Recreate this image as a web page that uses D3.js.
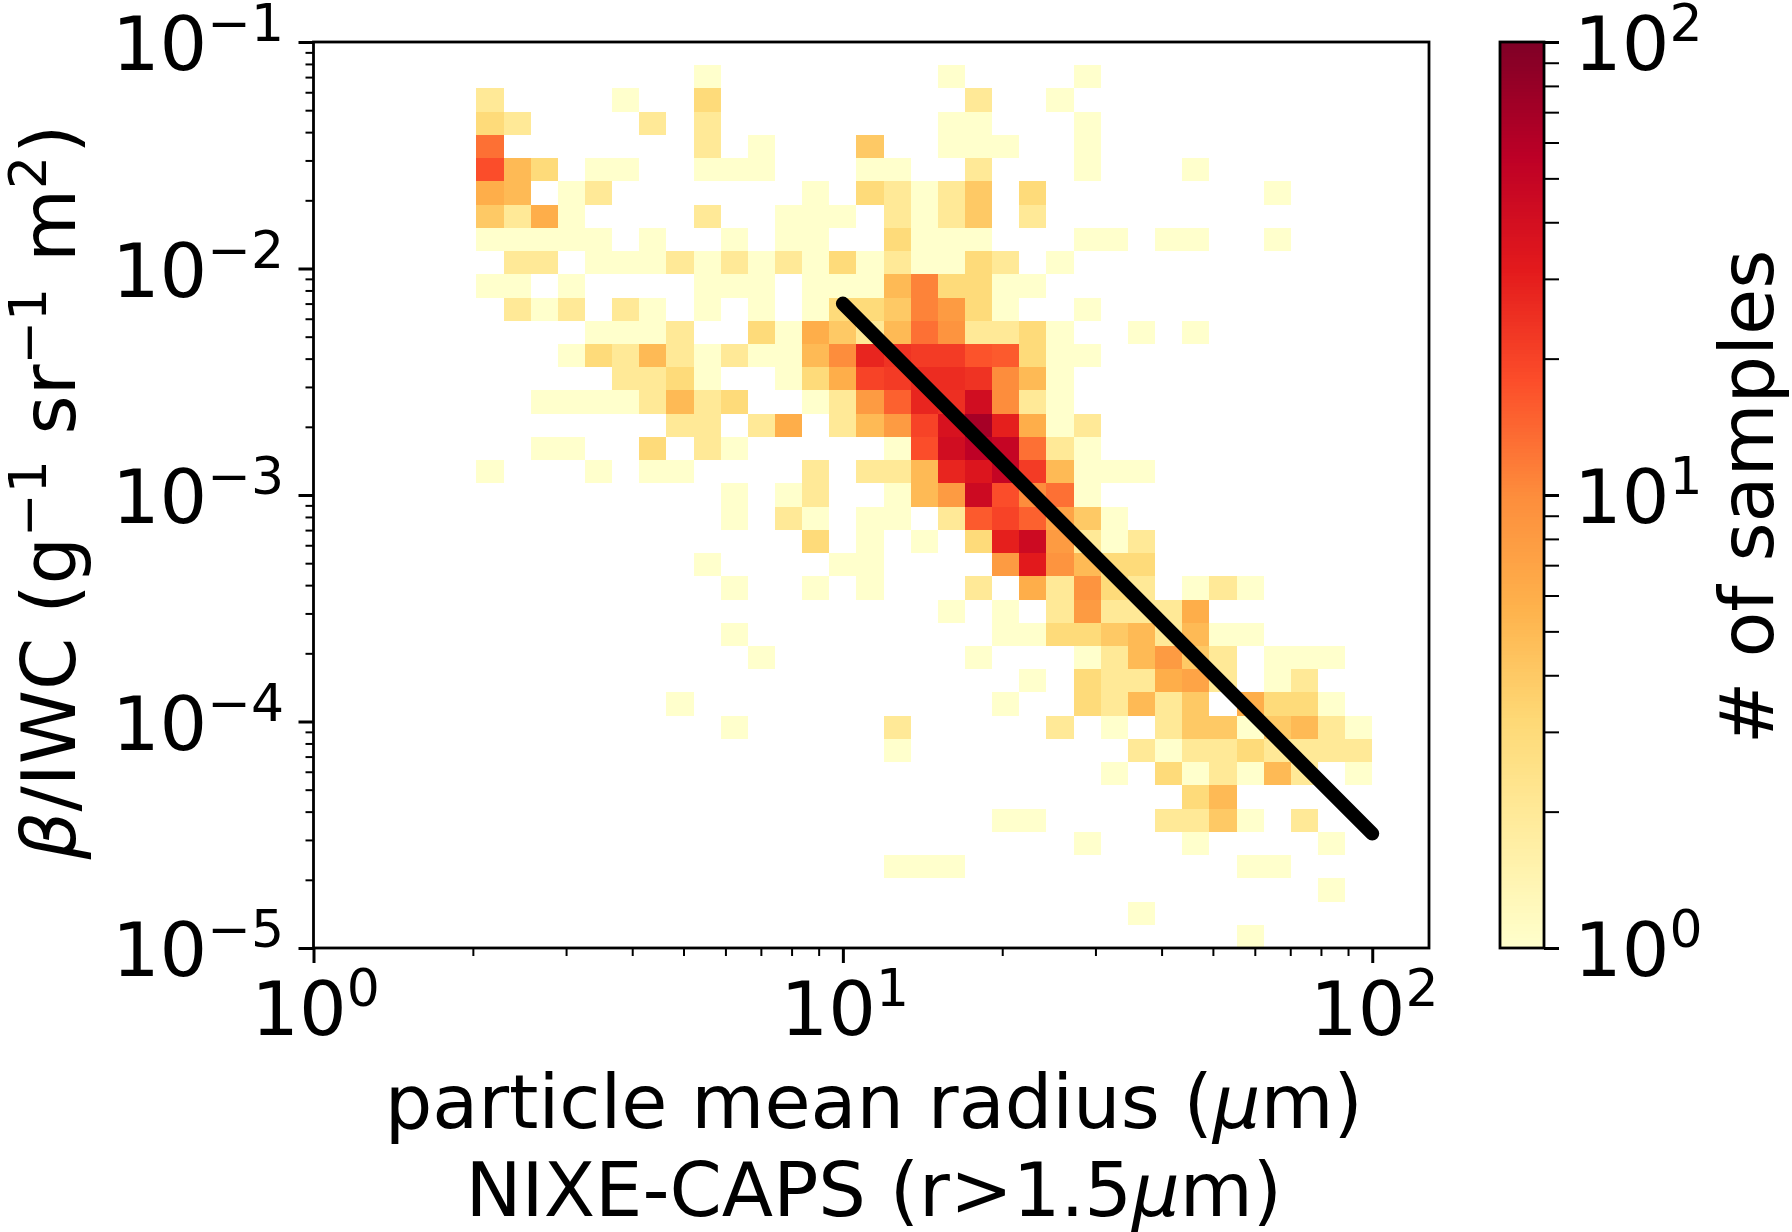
<!DOCTYPE html>
<html>
<head>
<meta charset="utf-8">
<script src="https://d3js.org/d3.v7.min.js"></script>
<style>
  html, body { margin: 0; padding: 0; background: #fff; }
  text { font-family: "DejaVu Sans"; fill: #000; }
</style>
</head>
<body>
<svg id="chart" width="1792" height="1232"></svg>
<script>
// histogram bins: 39 log spaced bins on each axis
const nBins = 39
const xDecades = [0, 2]
const yDecades = [-5, -1]

// sample counts per row of bins (top row first), as [x bin, count]
const counts = [
  [],
  [[14,1],[23,1],[28,1]],
  [[6,2],[11,1],[14,3],[24,2],[27,1]],
  [[6,3],[7,2],[12,2],[14,2],[23,1],[24,1],[28,1]],
  [[6,13],[14,2],[16,1],[20,4],[23,1],[24,1],[25,1],[28,1]],
  [[6,18],[7,5],[8,3],[10,1],[11,1],[14,1],[15,1],[16,1],[20,1],[21,1],[24,2],[28,1],[32,1]],
  [[6,6],[7,5],[9,1],[10,2],[18,1],[20,3],[21,2],[22,1],[23,2],[24,4],[26,3],[35,1]],
  [[6,4],[7,2],[8,6],[9,1],[14,2],[17,1],[18,1],[19,1],[21,2],[22,1],[23,2],[24,4],[26,2]],
  [[6,1],[7,1],[8,1],[9,1],[10,1],[12,1],[15,1],[17,1],[18,1],[21,3],[22,1],[23,1],[24,1],[28,1],[29,1],[31,1],[32,1],[35,1]],
  [[7,2],[8,2],[10,1],[11,1],[12,1],[13,2],[14,1],[15,2],[16,1],[17,2],[18,1],[19,3],[20,1],[21,2],[22,1],[23,1],[24,3],[25,2],[27,1]],
  [[6,1],[7,1],[9,1],[14,1],[15,1],[16,1],[18,1],[19,1],[20,1],[21,5],[22,11],[23,3],[24,3],[25,1],[26,1]],
  [[7,2],[8,1],[9,2],[11,2],[12,1],[14,1],[16,1],[18,1],[19,3],[20,3],[21,4],[22,11],[23,8],[24,3],[25,1],[28,1]],
  [[10,1],[11,1],[12,1],[13,2],[16,3],[17,1],[18,6],[19,4],[20,2],[21,5],[22,13],[23,9],[24,2],[25,2],[26,3],[27,1],[30,1],[32,1]],
  [[9,1],[10,3],[11,2],[12,5],[13,2],[14,1],[15,2],[16,1],[17,1],[18,5],[19,10],[20,28],[21,24],[22,22],[23,22],[24,17],[25,16],[26,3],[27,1],[28,1]],
  [[11,2],[12,2],[13,3],[14,1],[17,1],[18,3],[19,6],[20,20],[21,22],[22,26],[23,26],[24,24],[25,10],[26,5],[27,1]],
  [[8,1],[9,1],[10,1],[11,1],[12,2],[13,5],[14,2],[15,3],[18,1],[19,2],[20,8],[21,15],[22,28],[23,25],[24,42],[25,10],[26,2],[27,1]],
  [[13,2],[14,2],[16,2],[17,6],[19,2],[20,5],[21,8],[22,20],[23,38],[24,70],[25,30],[26,6],[27,1],[28,2]],
  [[8,1],[9,1],[12,3],[14,2],[15,1],[21,1],[22,18],[23,42],[24,55],[25,50],[26,13],[27,2],[28,1]],
  [[6,1],[10,1],[12,1],[13,1],[18,2],[20,2],[21,2],[22,5],[23,28],[24,35],[25,50],[26,22],[27,5],[28,1],[29,1],[30,1]],
  [[15,1],[17,1],[18,2],[21,1],[22,5],[23,8],[24,45],[25,18],[26,10],[27,13],[28,1]],
  [[15,1],[17,2],[18,1],[20,1],[21,1],[23,2],[24,16],[25,20],[26,15],[27,7],[28,4],[29,1]],
  [[18,3],[20,1],[22,1],[24,3],[25,30],[26,45],[27,8],[28,2],[29,1],[30,2]],
  [[14,1],[19,1],[20,1],[25,8],[26,32],[27,9],[28,5],[29,3],[30,3]],
  [[15,1],[18,1],[20,1],[24,2],[26,6],[27,2],[28,9],[29,3],[30,2],[32,1],[33,2],[34,1]],
  [[23,1],[25,1],[27,2],[28,8],[29,2],[30,2],[31,2],[32,6]],
  [[15,1],[25,1],[26,1],[27,3],[28,3],[29,4],[30,5],[31,2],[32,5],[33,1],[34,1]],
  [[16,1],[24,1],[28,1],[29,2],[30,5],[31,8],[32,4],[33,2],[35,1],[36,1],[37,1]],
  [[26,1],[28,3],[29,2],[30,2],[31,6],[32,7],[33,2],[35,1],[36,2]],
  [[13,1],[25,1],[28,3],[29,2],[30,5],[31,2],[32,4],[34,6],[35,3],[36,3],[37,1]],
  [[15,1],[21,2],[27,2],[29,1],[31,2],[32,4],[33,4],[34,1],[35,4],[36,5],[37,2],[38,1]],
  [[21,1],[30,2],[31,1],[32,2],[33,2],[34,3],[35,2],[36,2],[37,2],[38,2]],
  [[29,1],[31,3],[32,1],[33,2],[34,1],[35,5],[36,2],[38,1]],
  [[32,3],[33,5]],
  [[25,1],[26,1],[31,2],[32,2],[33,4],[34,1],[36,2]],
  [[28,1],[32,1],[37,1]],
  [[21,1],[22,1],[23,1],[34,1],[35,1]],
  [[37,1]],
  [[30,1]],
  [[34,1]]
]

// fit line
const fitRadius = [10, 100]
const fitRatio = [7.0e-3, 3.2e-5]

// YlOrRd
const cmapColors = ['#ffffcc','#ffeda0','#fed976','#feb24c','#fd8d3c','#fc4e2a','#e31a1c','#bd0026','#800026']

const xMajor = [1, 10, 100]
const xMinor = [2,3,4,5,6,7,8,9,20,30,40,50,60,70,80,90]
const yMajor = [1e-5, 1e-4, 1e-3, 1e-2, 1e-1]
const yMinor = d3.merge([1e-5, 1e-4, 1e-3, 1e-2].map(d => [2,3,4,5,6,7,8,9].map(m => m * d)))
const cMajor = [1, 10, 100]
const cMinor = [2,3,4,5,6,7,8,9,20,30,40,50,60,70,80,90]

const margin = { left: 313.5, right: 1429, top: 42, bottom: 948 }
const cbar = { left: 1500, right: 1544 }
const tickFont = 75
const supFont = 52

const xScale = d3.scaleLog().domain([1, 128]).range([margin.left, margin.right])
const yScale = d3.scaleLog().domain([1e-5, 1e-1]).range([margin.bottom, margin.top])
const cScale = d3.scaleLog().domain([1, 100]).range([margin.bottom, margin.top])

const cmap = d3.scaleLinear()
  .domain(cmapColors.map((d, i) => i / (cmapColors.length - 1)))
  .range(cmapColors)
const colorNorm = d3.scaleLog().domain([1, 100]).range([0, 1])

const svg = d3.select('#chart')
svg.append('rect').attr('width', 1792).attr('height', 1232).attr('fill', '#fff')

// bin edges
const xEdge = i => Math.pow(10, xDecades[0] + i * (xDecades[1] - xDecades[0]) / nBins)
const yEdge = j => Math.pow(10, yDecades[1] - j * (yDecades[1] - yDecades[0]) / nBins)

const cells = d3.merge(counts.map((row, j) => row.map(c => ({ i: c[0], j: j, n: c[1] }))))

svg.append('g').attr('class', 'cells')
  .attr('shape-rendering', 'crispEdges')
  .selectAll('rect')
  .data(cells)
  .enter().append('rect')
  .attr('x', d => xScale(xEdge(d.i)))
  .attr('y', d => yScale(yEdge(d.j)))
  .attr('width', d => xScale(xEdge(d.i + 1)) - xScale(xEdge(d.i)))
  .attr('height', d => yScale(yEdge(d.j + 1)) - yScale(yEdge(d.j)))
  .attr('fill', d => cmap(colorNorm(d.n)))

// fit line
const line = d3.line().x(d => xScale(d[0])).y(d => yScale(d[1]))
svg.append('path')
  .datum(fitRadius.map((r, i) => [r, fitRatio[i]]))
  .attr('d', line)
  .attr('fill', 'none')
  .attr('stroke', '#000')
  .attr('stroke-width', 14)
  .attr('stroke-linecap', 'round')

// colorbar
const cbarSteps = d3.range(256)
svg.append('g').attr('shape-rendering', 'crispEdges')
  .selectAll('rect')
  .data(cbarSteps)
  .enter().append('rect')
  .attr('x', cbar.left)
  .attr('width', cbar.right - cbar.left)
  .attr('y', d => margin.bottom - (d + 1) * (margin.bottom - margin.top) / 256)
  .attr('height', (margin.bottom - margin.top) / 256 + 0.5)
  .attr('fill', d => cmap(d / 255))

// frames
svg.append('rect')
  .attr('x', margin.left).attr('y', margin.top)
  .attr('width', margin.right - margin.left).attr('height', margin.bottom - margin.top)
  .attr('fill', 'none').attr('stroke', '#000').attr('stroke-width', 2.8)
svg.append('rect')
  .attr('x', cbar.left).attr('y', margin.top)
  .attr('width', cbar.right - cbar.left).attr('height', margin.bottom - margin.top)
  .attr('fill', 'none').attr('stroke', '#000').attr('stroke-width', 2.8)

function styleAxis(g, width) {
  g.select('.domain').remove()
  g.selectAll('.tick line').attr('stroke', '#000').attr('stroke-width', width)
  g.selectAll('text').remove()
}

// draw "10^n" tick label as real text
function powerLabel(sel, anchor, x, y, value) {
  const exp = Math.round(Math.log10(value))
  const label = sel.append('text')
    .attr('x', x).attr('y', y)
    .attr('text-anchor', anchor)
    .style('font-size', tickFont + 'px')
  label.append('tspan').text('10')
  label.append('tspan')
    .attr('dy', -29)
    .style('font-size', supFont + 'px')
    .text(String(exp).replace('-', '\u2212'))
}

const axisX = svg.append('g').attr('transform', `translate(0,${margin.bottom})`)
axisX.call(d3.axisBottom(xScale).tickValues(xMajor).tickSize(15)).call(styleAxis, 3)
const axisXm = svg.append('g').attr('transform', `translate(0,${margin.bottom})`)
axisXm.call(d3.axisBottom(xScale).tickValues(xMinor).tickSize(8)).call(styleAxis, 2)

const axisY = svg.append('g').attr('transform', `translate(${margin.left},0)`)
axisY.call(d3.axisLeft(yScale).tickValues(yMajor).tickSize(15)).call(styleAxis, 3)
const axisYm = svg.append('g').attr('transform', `translate(${margin.left},0)`)
axisYm.call(d3.axisLeft(yScale).tickValues(yMinor).tickSize(8)).call(styleAxis, 2)

const axisC = svg.append('g').attr('transform', `translate(${cbar.right},0)`)
axisC.call(d3.axisRight(cScale).tickValues(cMajor).tickSize(15)).call(styleAxis, 3)
const axisCm = svg.append('g').attr('transform', `translate(${cbar.right},0)`)
axisCm.call(d3.axisRight(cScale).tickValues(cMinor).tickSize(15)).call(styleAxis, 2)

xMajor.forEach(v => powerLabel(svg, 'middle', xScale(v) + 2, 1035, v))
yMajor.forEach(v => powerLabel(svg, 'end', 284, yScale(v) + 28, v))
cMajor.forEach(v => powerLabel(svg, 'start', 1574, cScale(v) + 28, v))

// axis titles
const xTitle = svg.append('text')
  .attr('x', (margin.left + margin.right) / 2 + 2.5).attr('y', 1128)
  .attr('text-anchor', 'middle').style('font-size', tickFont + 'px')
xTitle.append('tspan').text('particle mean radius (')
xTitle.append('tspan').style('font-style', 'italic').text('\u03bc')
xTitle.append('tspan').text('m)')

const xTitle2 = svg.append('text')
  .attr('x', (margin.left + margin.right) / 2 + 2.5).attr('y', 1216)
  .attr('text-anchor', 'middle').style('font-size', tickFont + 'px')
xTitle2.append('tspan').text('NIXE-CAPS (r>1.5')
xTitle2.append('tspan').style('font-style', 'italic').text('\u03bc')
xTitle2.append('tspan').text('m)')

const yTitle = svg.append('text')
  .attr('transform', `translate(75,${(margin.top + margin.bottom) / 2 - 3}) rotate(-90)`)
  .attr('text-anchor', 'middle').style('font-size', tickFont + 'px')
yTitle.append('tspan').style('font-style', 'italic').text('\u03b2')
yTitle.append('tspan').text('/IWC (g')
yTitle.append('tspan').attr('dy', -29).style('font-size', supFont + 'px').text('\u22121')
yTitle.append('tspan').attr('dy', 29).attr('dx', 2).text(' sr')
yTitle.append('tspan').attr('dy', -29).style('font-size', supFont + 'px').text('\u22121')
yTitle.append('tspan').attr('dy', 29).attr('dx', 2).text(' m')
yTitle.append('tspan').attr('dy', -29).style('font-size', supFont + 'px').text('2')
yTitle.append('tspan').attr('dy', 29).attr('dx', 2).text(')')

svg.append('text')
  .attr('transform', `translate(1773,${(margin.top + margin.bottom) / 2 + 2}) rotate(-90)`)
  .attr('text-anchor', 'middle').style('font-size', tickFont + 'px')
  .text('# of samples')
</script>
</body>
</html>
